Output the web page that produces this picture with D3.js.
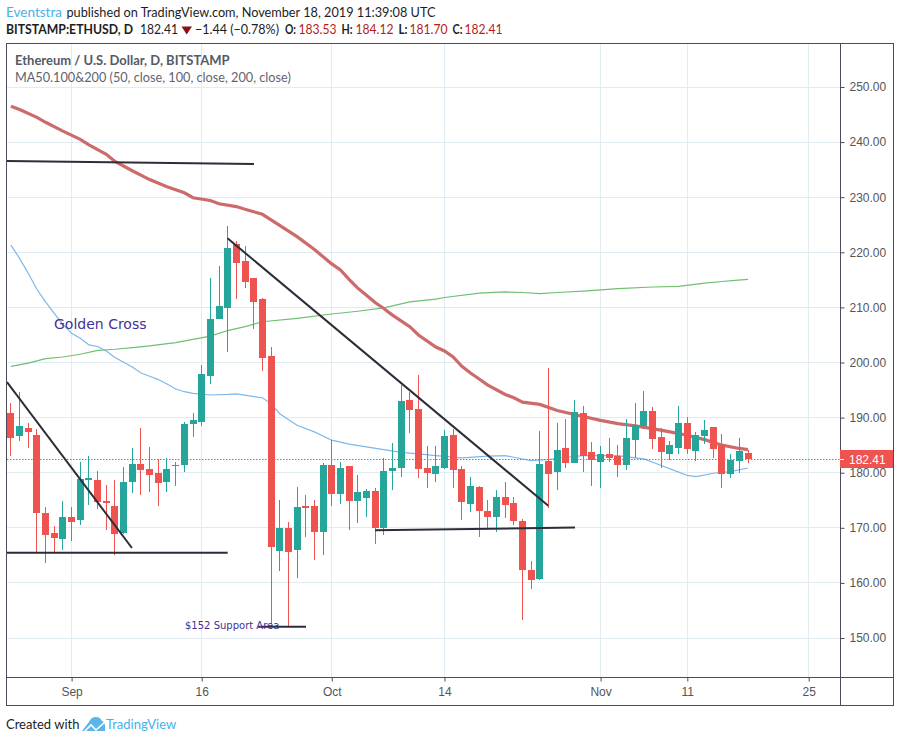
<!DOCTYPE html>
<html>
<head>
<meta charset="utf-8">
<script src="https://cdnjs.cloudflare.com/ajax/libs/d3/7.8.5/d3.min.js"></script>
<style>
html, body { margin: 0; padding: 0; background: #fff; }
svg { display: block; }
</style>
</head>
<body>
<svg id="chart" width="900" height="742"></svg>
<script>
// daily candles, day 0 = Aug 25 2019, last one = Nov 18
var opens  = [190.83,186.65,188.05,186.78,172.62,168.99,167.96,171.89,171.41,178.6,178.6,174.8,173.89,168.99,178.25,181.51,180.6,179.88,178.25,181.33,181.33,188.77,189.2,197.58,207.88,209.88,221.5,218.42,215.33,211.5,201.15,165.88,169.88,166.06,173.88,173.88,169.15,181.33,176.06,181.15,174.79,175.33,176.6,170,180.24,180.78,193.25,191.63,180.78,179.7,180.78,186.93,180.6,174.28,177.35,173.01,171.93,175.54,174.46,171.2,162.35,160.72,182.05,180.06,184.4,181.7,190.79,183.7,181.88,183.33,182.97,181.33,185.88,188.42,191.15,186.42,183.33,184.42,188.97,183.88,186.6,188.24,184.97,179.7,182.06,183.53];
var closes = [186.29,188.41,187.38,172.68,168.69,168.14,171.89,170.99,178.79,178.97,174.68,174.43,168.81,178.25,181.51,180.42,179.52,178.06,180.6,181.15,188.77,189.5,197.9,207.88,210.24,220.79,218.06,214.6,210.97,200.79,166.6,169.88,165.52,173.7,173.52,169.15,181.33,176.06,180.79,174.79,176.42,176.6,169.88,180.24,180.78,193.07,191.45,180.6,179.88,181.14,186.75,180.42,174.64,177.53,173.01,171.93,175.54,174.1,171.2,162.35,160.54,181.5,179.7,184.2,181.69,190.97,183.09,182.36,183.33,182.6,181.33,186.24,188.6,191.15,186.06,183.7,184.97,188.97,184.24,186.79,187.7,184.24,179.7,182.24,183.88,182.41];
var highs  = [192.64,194.58,188.95,187.86,173.71,170.26,174.8,173.71,181.88,182.96,180.24,177.7,178.6,180.97,184.42,188.05,184.6,182.42,182.6,181.88,189.13,190.77,199.5,215.33,217.5,224.79,222.06,221.15,215.33,211.7,202.79,174.97,170.97,177.33,175.88,174.97,181.7,185.88,181.88,181.15,179.52,176.97,177.15,182.59,185.3,195.96,194.7,197.77,184.76,184.76,187.83,188.01,181.14,179.16,177.53,175,176.8,178.25,175.54,171.57,163.98,187.65,199,189.1,189.82,193.15,192.06,185.5,184.79,186.24,184.97,189.7,192.6,194.79,191.88,188.06,185.7,192.06,190.06,187.33,189.5,188.24,186.97,183.33,186.24,184.12];
var lows   = [182.96,185.69,184.42,165.6,163.6,165.6,165.96,167.6,170.5,174.07,173.35,169.53,165.06,168.93,176.25,175.89,176.43,173.89,176.43,177.52,180.06,186.41,188.4,196.12,207.88,201.88,211.5,213.5,206.06,198.42,152.55,162.24,152.24,160.97,168.42,164.24,165.15,173.88,174.24,169.52,170.79,171.88,166.97,168.73,176.8,179.16,187.29,178.98,177.17,178.25,180.6,177.17,171.39,172.83,168.31,169.94,169.22,171.75,170.48,153.31,158.92,160.54,173.55,176.8,180.78,181.7,180.06,177.5,177.15,181.88,179.15,180.42,182.6,187.88,184.24,180.79,182.24,183.33,183.33,182.06,185.15,182.6,177.15,178.97,179.88,181.7];

// moving averages, [day, value]
var ma100 = [[0,246.5],[1,245.9],[3,244.5],[4,243.6],[6,242],[8,240.5],[9,239.5],[11,237.8],[12,236.5],[14,234.8],[16,233.2],[18,231.9],[20,230.8],[21,229.9],[23,229.4],[24,228.8],[26,228.3],[27,227.8],[29,226.9],[30,225.9],[33,222.85],[35,220.5],[37,217.9],[38,216.8],[39,215.1],[40,213.5],[41,212.2],[42,210.9],[43,209.8],[44,208.6],[46,206.5],[47,205],[49,202.8],[50,202.1],[51,201],[52,199.3],[53,198.1],[54,197],[55,195.9],[57,194.2],[58,193.6],[59,192.8],[61,192.4],[63,191.3],[66,190.2],[68,189.5],[70,188.9],[72,188.5],[74,188],[76,187.4],[78,186.8],[80,186],[82,185],[84,184.4],[85,184.2]];
var ma50 = [[0,221.3],[1,218.9],[2,216.2],[3,213.3],[4,211],[5,208.9],[6,206.9],[7,205.3],[8,204.4],[9,203.2],[10,202.9],[11,202.1],[12,200.9],[14,199.2],[15,198.1],[16,197.5],[17,196.9],[18,196.1],[19,195.2],[20,194.7],[21,194.4],[23,194.1],[25,194.2],[26,194.3],[29,193.6],[30,192.5],[31,190.7],[33,188.6],[35,187.4],[37,185.9],[39,185.2],[41,184.7],[43,184.2],[45,183.7],[47,183.4],[49,183.1],[52,182.7],[55,183],[57,183.1],[58,182.8],[60,182.2],[62,182.4],[64,182.8],[66,183.1],[68,183.1],[70,183.1],[72,182.7],[73,182.5],[75,181.3],[77,180.1],[78,179.5],[79,179.3],[81,179.9],[83,180.2],[85,180.85]];
var ma200 = [[0,199.3],[2,199.9],[4,200.7],[6,201],[8,201.5],[10,202.2],[12,202.4],[14,202.7],[16,203],[19,203.6],[21,204.2],[23,204.8],[25,205.8],[27,206.5],[29,207.4],[33,208],[37,208.8],[40,209.3],[43,209.9],[46,211],[49,211.5],[50,211.8],[54,212.6],[57,212.8],[59,212.7],[61,212.5],[63,212.7],[66.5,213],[70,213.4],[74,213.7],[77,213.8],[80,214.4],[82,214.7],[83.5,214.9],[85,215.1]];

// hand drawn trend lines, [day, price, day, price]
var trendLines = [
  [-0.45,236.57,28.03,236.03],
  [-0.45,196.46,13.96,166.33],
  [-0.45,165.45,25,165.45],
  [24.98,222.54,61.97,174],
  [42,169.55,65.05,170.05],
  [28.5,152.05,34.03,152.05]
];

var priceTicks = d3.range(150, 251, 10);
var dayTicks = [7, 22, 37, 50, 68, 78, 92];
var dayLabels = ["Sep", "16", "Oct", "14", "Nov", "11", "25"];
var lastPrice = 182.41;

var plotL = 7, plotR = 840, plotT = 43, plotB = 677, frameR = 893, frameB = 705;

var x = d3.scaleLinear().domain([0, 85]).range([10.9, 748]);
var y = d3.scaleLinear().domain([150, 250]).range([638, 87]);

var svg = d3.select("#chart");
svg.append("defs").append("clipPath").attr("id", "plotClip")
  .append("rect").attr("x", plotL).attr("y", plotT).attr("width", plotR - plotL).attr("height", plotB - plotT);

// grid
var grid = svg.append("g").attr("stroke", "#e1ecf2").attr("stroke-width", 1).attr("shape-rendering", "crispEdges");
grid.selectAll(".h").data(priceTicks).enter().append("line").attr("class", "h")
  .attr("x1", plotL).attr("x2", plotR)
  .attr("y1", function(d) { return Math.floor(y(d)) + 0.5; })
  .attr("y2", function(d) { return Math.floor(y(d)) + 0.5; });
grid.selectAll(".v").data(dayTicks).enter().append("line").attr("class", "v")
  .attr("y1", plotT).attr("y2", plotB)
  .attr("x1", function(d) { return Math.floor(x(d)) + 0.5; })
  .attr("x2", function(d) { return Math.floor(x(d)) + 0.5; });

var plot = svg.append("g").attr("clip-path", "url(#plotClip)");

// moving averages go under the candles
var line = d3.line().x(function(d) { return x(d[0]); }).y(function(d) { return y(d[1]); });
plot.append("path").datum(ma200).attr("d", line).attr("fill", "none").attr("stroke", "#6fbf73").attr("stroke-width", 1.2);
plot.append("path").datum(ma50).attr("d", line).attr("fill", "none").attr("stroke", "#7db8ec").attr("stroke-width", 1.2);
plot.append("path").datum(ma100).attr("d", line).attr("fill", "none").attr("stroke", "#cd6a6a").attr("stroke-width", 3.2);

// last price line
plot.append("line").attr("x1", plotL).attr("x2", plotR).attr("y1", Math.floor(y(lastPrice)) + 0.5).attr("y2", Math.floor(y(lastPrice)) + 0.5)
  .attr("stroke", "#ef5350").attr("stroke-dasharray", "1.5,1.5");

// candles
var candles = plot.selectAll(".candle").data(d3.range(opens.length)).enter().append("g")
  .attr("class", "candle").attr("shape-rendering", "crispEdges")
  .attr("fill", function(i) { return closes[i] >= opens[i] ? "#26a69a" : "#ef5350"; });
candles.append("rect")
  .attr("x", function(i) { return Math.floor(x(i)); }).attr("width", 1)
  .attr("y", function(i) { return Math.round(y(highs[i])); })
  .attr("height", function(i) { return Math.round(y(lows[i])) - Math.round(y(highs[i])); });
candles.append("rect")
  .attr("x", function(i) { return Math.floor(x(i)) - 3; }).attr("width", 7)
  .attr("y", function(i) { return Math.round(y(Math.max(opens[i], closes[i]))); })
  .attr("height", function(i) { return Math.max(1, Math.round(y(Math.min(opens[i], closes[i]))) - Math.round(y(Math.max(opens[i], closes[i])))); });

// trend lines
plot.selectAll(".trend").data(trendLines).enter().append("line").attr("class", "trend")
  .attr("x1", function(d) { return x(d[0]); }).attr("y1", function(d) { return y(d[1]); })
  .attr("x2", function(d) { return x(d[2]); }).attr("y2", function(d) { return y(d[3]); })
  .attr("stroke", "#2b2d38").attr("stroke-width", 2);

// notes on the chart
svg.append("text").attr("x", 54).attr("y", 329).attr("font-family", "DejaVu Sans").attr("font-size", 14).attr("fill", "#3f3293").text("Golden Cross");
svg.append("text").attr("x", 185).attr("y", 629).attr("font-family", "DejaVu Sans").attr("font-size", 10).attr("fill", "#3f3293").text("$152 Support Area");

// frame
var frameColor = "#4a4d58";
svg.append("rect").attr("x", 6.5).attr("y", 43.5).attr("width", frameR - 6.5).attr("height", frameB - 43.5)
  .attr("fill", "none").attr("stroke", frameColor).attr("shape-rendering", "crispEdges");
svg.append("line").attr("x1", 6.5).attr("x2", frameR).attr("y1", plotB + 0.5).attr("y2", plotB + 0.5).attr("stroke", frameColor).attr("shape-rendering", "crispEdges");
svg.append("line").attr("x1", plotR + 0.5).attr("x2", plotR + 0.5).attr("y1", 43).attr("y2", frameB).attr("stroke", frameColor).attr("shape-rendering", "crispEdges");

var axisFont = "Liberation Sans";
var yAxis = svg.append("g").attr("transform", "translate(" + (plotR + 0.5) + ",0)")
  .call(d3.axisRight(y).tickValues(priceTicks).tickFormat(d3.format(".2f")).tickSize(4).tickPadding(5));
yAxis.select(".domain").remove();
yAxis.selectAll("line").attr("stroke", frameColor);
yAxis.selectAll("text").attr("font-family", axisFont).attr("font-size", 12).attr("fill", "#555");

var xAxis = svg.append("g").attr("transform", "translate(0," + (plotB + 0.5) + ")")
  .call(d3.axisBottom(x).tickValues(dayTicks).tickFormat(function(d, i) { return dayLabels[i]; }).tickSize(4).tickPadding(6));
xAxis.select(".domain").remove();
xAxis.selectAll("line").attr("stroke", frameColor);
xAxis.selectAll("text").attr("font-family", axisFont).attr("font-size", 12).attr("fill", "#555");

// last price tag
svg.append("rect").attr("x", plotR).attr("y", 450).attr("width", frameR - plotR).attr("height", 18).attr("fill", "#ef5350");
svg.append("line").attr("x1", plotR).attr("x2", plotR + 4).attr("y1", 459.5).attr("y2", 459.5).attr("stroke", "#fff");
svg.append("text").attr("x", 849).attr("y", 463.5).attr("font-family", axisFont).attr("font-size", 12).attr("fill", "#fff").text(d3.format(".2f")(lastPrice));

// titles inside the plot
var headFont = "Lato";
svg.append("text").attr("x", 15).attr("y", 65).attr("font-family", headFont).attr("font-weight", 700).attr("font-size", 13).attr("fill", "#555a66").text("Ethereum / U.S. Dollar, D, BITSTAMP");
svg.append("text").attr("x", 15).attr("y", 82).attr("font-family", headFont).attr("font-size", 12.7).attr("fill", "#5f6470").text("MA50.100&200 (50, close, 100, close, 200, close)");

// header, w = width of the text in the reference
var headItems = [
  {t: "Eventstra", x: 6, y: 17, w: 56, col: "#45b1ea"},
  {t: "published on TradingView.com, November 18, 2019 11:39:08 UTC", x: 66.5, y: 17, w: 369},
  {t: "BITSTAMP:ETHUSD, D", x: 6, w: 127, b: 1},
  {t: "182.41", x: 140, w: 38},
  {t: "\u22121.44 (\u22120.78%)", x: 195, w: 84},
  {t: "O:", x: 285, w: 11, b: 1}, {t: "183.53", x: 298.5, w: 38, col: "#b71c1c"},
  {t: "H:", x: 341.5, w: 11, b: 1}, {t: "184.12", x: 355.5, w: 38, col: "#b71c1c"},
  {t: "L:", x: 398.5, w: 9, b: 1}, {t: "181.70", x: 409.5, w: 38, col: "#b71c1c"},
  {t: "C:", x: 452.5, w: 10, b: 1}, {t: "182.41", x: 464.5, w: 38, col: "#b71c1c"}
];
svg.selectAll(".head2").data(headItems).enter().append("text").attr("class", "head2")
  .attr("x", function(d) { return d.x; }).attr("y", function(d) { return d.y || 33.5; })
  .attr("font-family", headFont).attr("font-size", 13)
  .attr("font-weight", function(d) { return d.b ? 700 : 400; })
  .attr("fill", function(d) { return d.col || "#1d1d1d"; })
  .attr("textLength", function(d) { return d.w; }).attr("lengthAdjust", "spacingAndGlyphs")
  .text(function(d) { return d.t; });
svg.append("path").attr("d", "M181.5,26.5L192,26.5L186.7,34.5Z").attr("fill", "#8b0f0f");

// footer
svg.append("text").attr("x", 6).attr("y", 729).attr("font-family", headFont).attr("font-size", 13).attr("fill", "#1d1d1d").text("Created with");
svg.append("path").attr("d", "M82,731L89,722Q91,717 96,717Q100,717 102,721Q105,722 105,726L105,731Z").attr("fill", "#5ab5ea");
svg.append("path").attr("d", "M84,732L91,725L96,730L105,722").attr("fill", "none").attr("stroke", "#fff").attr("stroke-width", 1.6);
svg.append("text").attr("x", 106).attr("y", 729).attr("font-family", headFont).attr("font-size", 13).attr("fill", "#45b1ea").text("TradingView");
</script>
</body>
</html>
